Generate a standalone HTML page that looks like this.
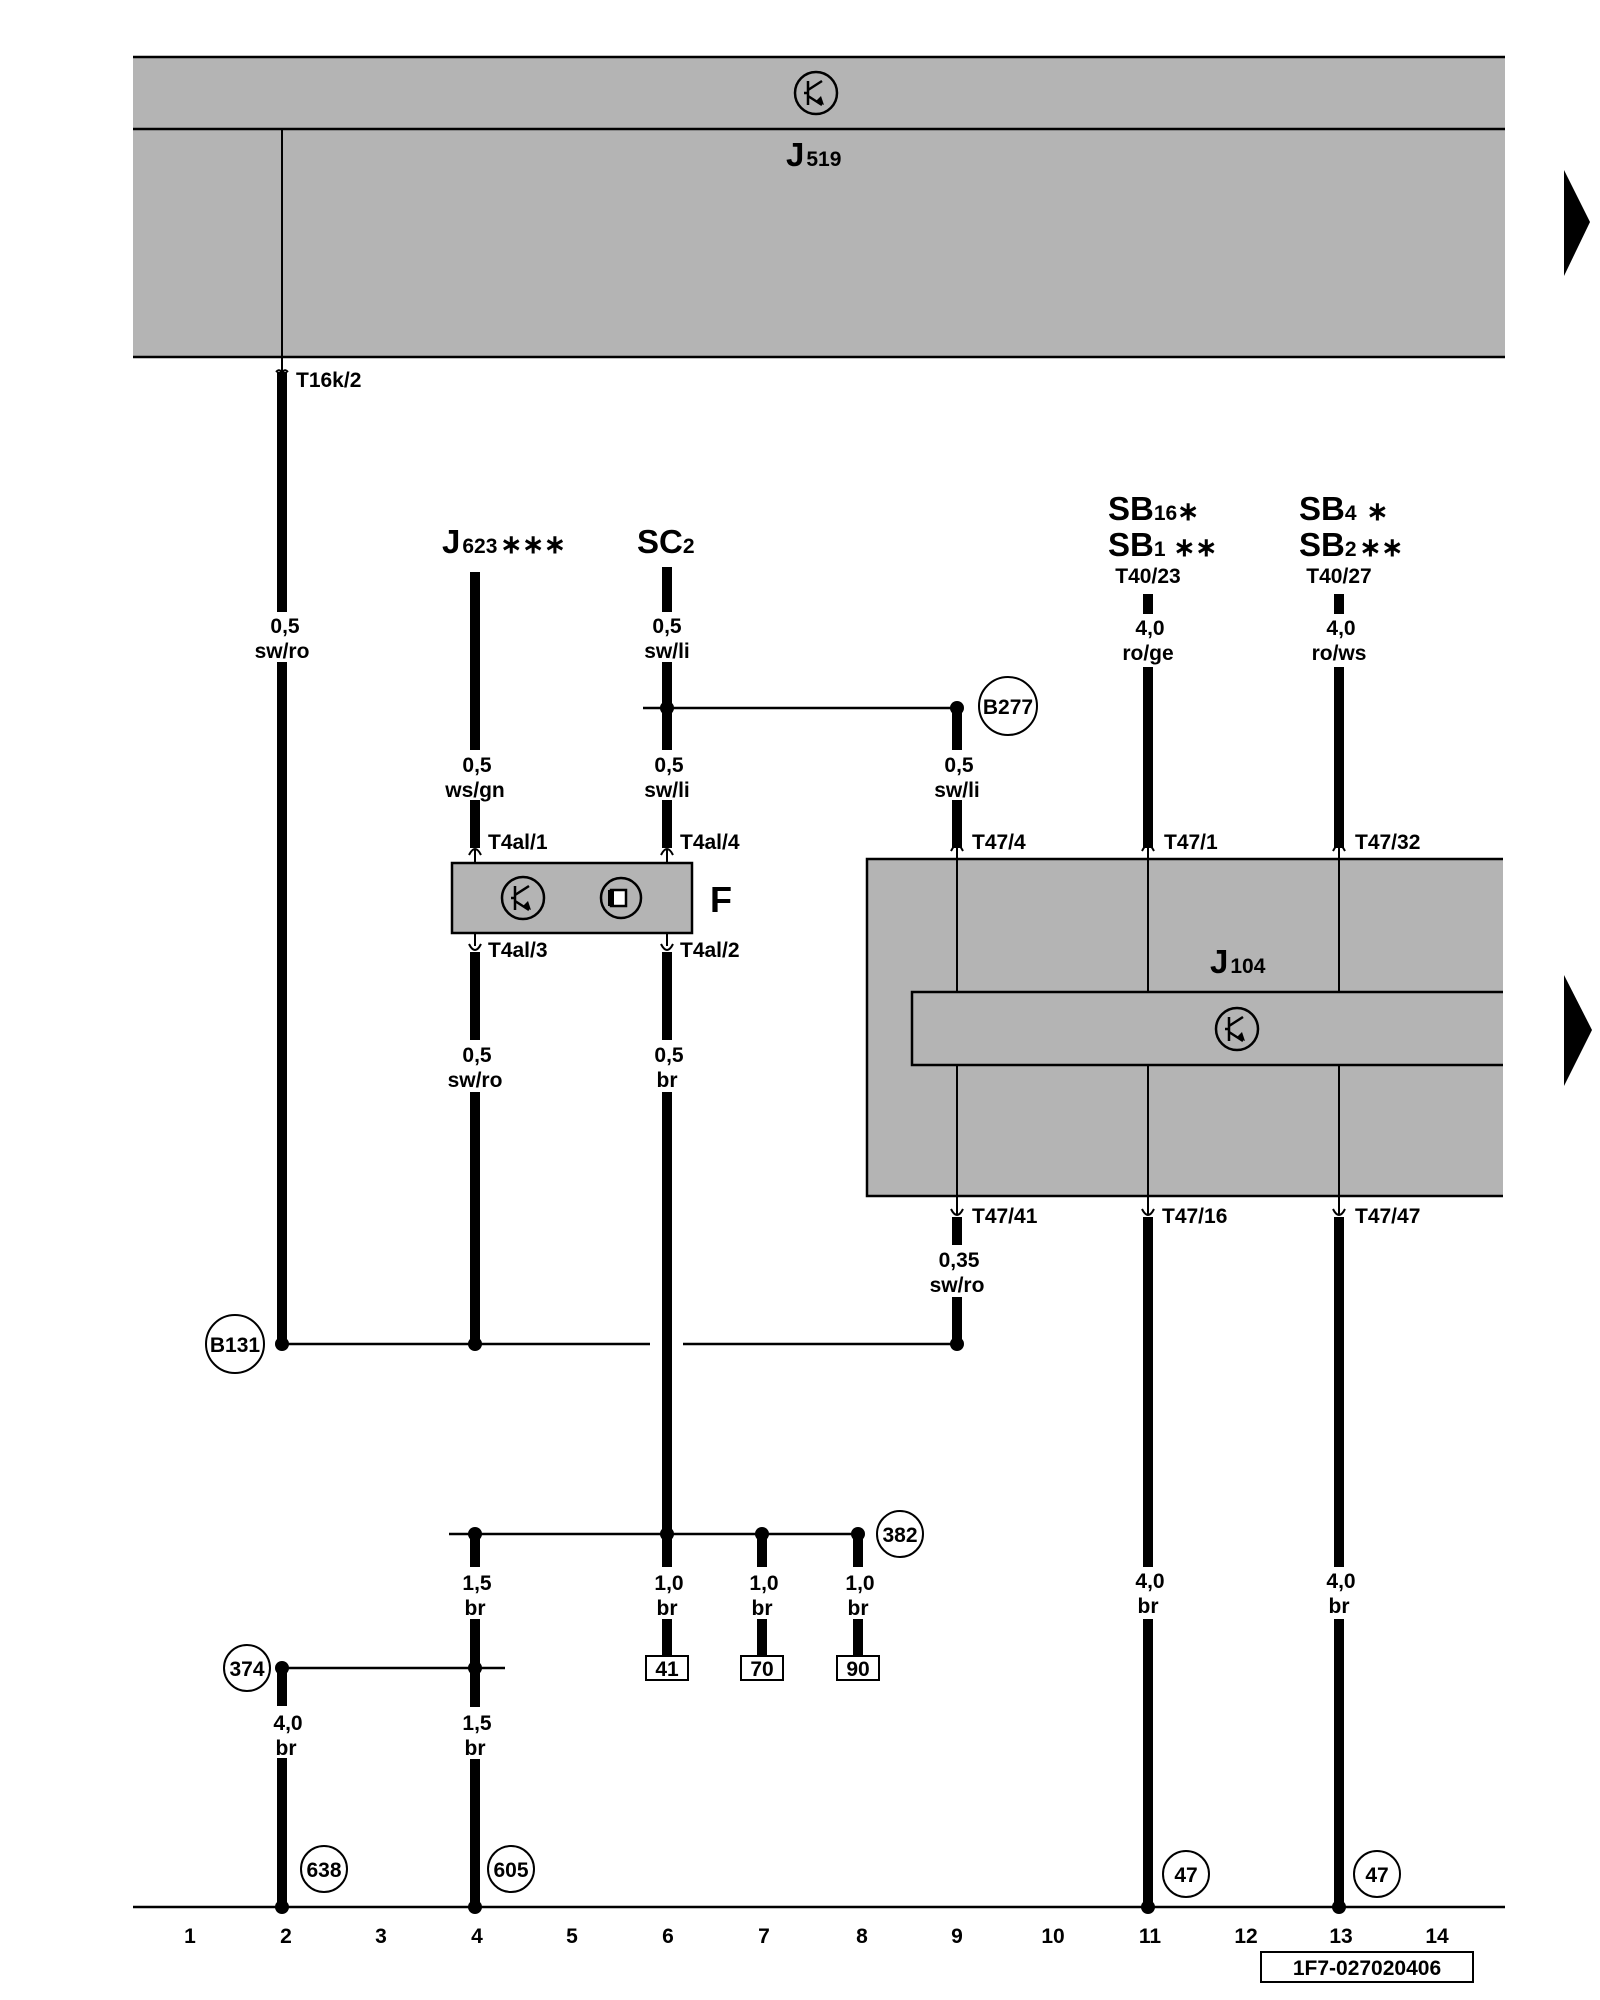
<!DOCTYPE html>
<html><head><meta charset="utf-8"><style>
html,body{margin:0;padding:0;background:#fff}
svg{display:block}
text{font-family:"Liberation Sans",Arial,sans-serif;fill:#000}
.l{font-size:21px;font-weight:bold;text-anchor:middle}
.t{font-size:21px;font-weight:bold}
.big{font-size:33px;font-weight:bold}
.sub{font-size:21px;font-weight:bold}
</style></head><body>
<svg width="1600" height="2000" viewBox="0 0 1600 2000" xmlns="http://www.w3.org/2000/svg">
<defs>
<g id="tr"><circle r="21" fill="none" stroke="#000" stroke-width="2.5"/><path d="M-8,-12 V12 M-12,0 H-8 M-8,-3 L6,-12 M-8,3 L6,12" stroke="#000" stroke-width="2.5" fill="none"/><path d="M8,12 L0,8 L5,3 Z" fill="#000"/></g>
</defs>
<rect x="133" y="57" width="1372" height="300" fill="#b4b4b4"/>
<path d="M133,57 H1505 M133,129 H1505 M133,357 H1505" stroke="#000" stroke-width="2.5"/>
<use href="#tr" x="816" y="93"/>
<text x="786" y="166" class="big">J<tspan class="sub" dx="2">519</tspan></text>
<line x1="282" y1="129" x2="282" y2="372" stroke="#000" stroke-width="2"/>
<path d="M1564,170 L1590,222 L1564,276 Z" fill="#000"/>
<path d="M1564,975 L1592,1030 L1564,1086 Z" fill="#000"/>

<rect x="867" y="859" width="640" height="337" fill="#b4b4b4" stroke="#000" stroke-width="2.5"/>
<rect x="912" y="992" width="595" height="73" fill="#b4b4b4" stroke="#000" stroke-width="2.5"/>
<rect x="1503" y="855" width="10" height="345" fill="#fff"/>
<use href="#tr" x="1237" y="1029"/>
<text x="1210" y="973" class="big">J<tspan class="sub" dx="2">104</tspan></text>
<g stroke="#000" stroke-width="2">
<line x1="957" y1="859" x2="957" y2="992"/><line x1="957" y1="1065" x2="957" y2="1196"/>
<line x1="1148" y1="859" x2="1148" y2="992"/><line x1="1148" y1="1065" x2="1148" y2="1196"/>
<line x1="1339" y1="859" x2="1339" y2="992"/><line x1="1339" y1="1065" x2="1339" y2="1196"/>
<line x1="475" y1="849" x2="475" y2="863"/><line x1="667" y1="849" x2="667" y2="863"/>
<line x1="475" y1="933" x2="475" y2="946"/><line x1="667" y1="933" x2="667" y2="946"/>
</g>
<rect x="452" y="863" width="240" height="70" fill="#b4b4b4" stroke="#000" stroke-width="2.5"/>
<use href="#tr" x="523" y="898"/>
<circle cx="621" cy="898" r="20" fill="none" stroke="#000" stroke-width="2.5"/>
<rect x="611" y="890" width="15" height="16" fill="#fff" stroke="#000" stroke-width="2.5"/>
<rect x="608" y="890" width="6" height="16" fill="#000"/>
<text x="710" y="912" style="font-size:36px;font-weight:bold">F</text>

<g stroke="#000" stroke-width="10" fill="none">
<path d="M282,372 V612 M282,662 V1344"/>
<path d="M282,1668 V1706 M282,1758 V1907"/>
<path d="M475,572 V750 M475,800 V848"/>
<path d="M475,952 V1040 M475,1092 V1344"/>
<path d="M475,1534 V1567 M475,1619 V1707 M475,1759 V1907"/>
<path d="M667,567 V612 M667,662 V750 M667,800 V848"/>
<path d="M667,952 V1040 M667,1092 V1567 M667,1619 V1656"/>
<path d="M762,1534 V1567 M762,1619 V1656"/>
<path d="M858,1534 V1567 M858,1619 V1656"/>
<path d="M957,708 V750 M957,800 V848"/>
<path d="M957,1217 V1245 M957,1297 V1344"/>
<path d="M1148,594 V614 M1148,667 V848"/>
<path d="M1148,1217 V1567 M1148,1619 V1907"/>
<path d="M1339,594 V614 M1339,667 V848"/>
<path d="M1339,1217 V1567 M1339,1619 V1907"/>
</g>
<g stroke="#000" stroke-width="2" fill="none">
<path d="M276,372 Q282,366 282,380 Q282,366 288,372"/>
<path d="M469,855 Q475,843 481,855 M475,849 V863"/>
<path d="M661,855 Q667,843 673,855 M667,849 V863"/>
<path d="M951,851 Q957,839 963,851 M957,845 V859"/>
<path d="M1142,851 Q1148,839 1154,851 M1148,845 V859"/>
<path d="M1333,851 Q1339,839 1345,851 M1339,845 V859"/>
<path d="M469,944 Q475,956 481,944"/>
<path d="M661,944 Q667,956 673,944"/>
<path d="M951,1209 Q957,1221 963,1209 M957,1196 V1214"/>
<path d="M1142,1209 Q1148,1221 1154,1209 M1148,1196 V1214"/>
<path d="M1333,1209 Q1339,1221 1345,1209 M1339,1196 V1214"/>
</g>
<g stroke="#000" stroke-width="2.5">
<line x1="643" y1="708" x2="957" y2="708"/>
<line x1="282" y1="1344" x2="650" y2="1344"/>
<line x1="683" y1="1344" x2="957" y2="1344"/>
<line x1="449" y1="1534" x2="858" y2="1534"/>
<line x1="282" y1="1668" x2="505" y2="1668"/>
<line x1="133" y1="1907" x2="1505" y2="1907"/>
</g>
<g fill="#000">
<circle cx="667" cy="708" r="7"/><circle cx="957" cy="708" r="7"/>
<circle cx="282" cy="1344" r="7"/><circle cx="475" cy="1344" r="7"/><circle cx="957" cy="1344" r="7"/>
<circle cx="475" cy="1534" r="7"/><circle cx="667" cy="1534" r="7"/><circle cx="762" cy="1534" r="7"/><circle cx="858" cy="1534" r="7"/>
<circle cx="282" cy="1668" r="7"/><circle cx="475" cy="1668" r="7"/>
<circle cx="282" cy="1907" r="7"/><circle cx="475" cy="1907" r="7"/><circle cx="1148" cy="1907" r="7"/><circle cx="1339" cy="1907" r="7"/>
</g>
<g fill="#fff" stroke="#000" stroke-width="2">
<circle cx="1008" cy="706" r="29"/><circle cx="235" cy="1344" r="29"/>
<circle cx="900" cy="1534" r="23"/><circle cx="247" cy="1668" r="23"/>
<circle cx="324" cy="1869" r="23"/><circle cx="511" cy="1869" r="23"/>
<circle cx="1186" cy="1874" r="23"/><circle cx="1377" cy="1874" r="23"/>
</g>
<g class="l">
<text x="1008" y="714" class="l">B277</text>
<text x="235" y="1352" class="l">B131</text>
<text x="900" y="1542" class="l">382</text>
<text x="247" y="1676" class="l">374</text>
<text x="324" y="1877" class="l">638</text>
<text x="511" y="1877" class="l">605</text>
<text x="1186" y="1882" class="l">47</text>
<text x="1377" y="1882" class="l">47</text>
</g>
<g fill="#fff" stroke="#000" stroke-width="2">
<rect x="646" y="1656" width="42" height="24"/><rect x="741" y="1656" width="42" height="24"/><rect x="837" y="1656" width="42" height="24"/>
</g>
<text x="667" y="1676" class="l">41</text><text x="762" y="1676" class="l">70</text><text x="858" y="1676" class="l">90</text>

<text x="296" y="387" class="t">T16k/2</text>
<text x="488" y="849" class="t">T4al/1</text>
<text x="680" y="849" class="t">T4al/4</text>
<text x="488" y="957" class="t">T4al/3</text>
<text x="680" y="957" class="t">T4al/2</text>
<text x="972" y="849" class="t">T47/4</text>
<text x="1164" y="849" class="t">T47/1</text>
<text x="1355" y="849" class="t">T47/32</text>
<text x="972" y="1223" class="t">T47/41</text>
<text x="1162" y="1223" class="t">T47/16</text>
<text x="1355" y="1223" class="t">T47/47</text>

<text x="442" y="553" class="big">J<tspan class="sub" dx="2">623</tspan><tspan style="font-size:26px" dx="3">∗∗∗</tspan></text>
<text x="637" y="553" class="big">SC<tspan class="sub">2</tspan></text>
<text x="1108" y="520" class="big">SB<tspan class="sub">16</tspan><tspan style="font-size:26px">∗</tspan></text>
<text x="1108" y="556" class="big">SB<tspan class="sub">1</tspan><tspan style="font-size:26px" dx="8">∗∗</tspan></text>
<text x="1148" y="583" class="l">T40/23</text>
<text x="1299" y="520" class="big">SB<tspan class="sub">4</tspan><tspan style="font-size:26px" dx="10">∗</tspan></text>
<text x="1299" y="556" class="big">SB<tspan class="sub">2</tspan><tspan style="font-size:26px" dx="3">∗∗</tspan></text>
<text x="1339" y="583" class="l">T40/27</text>

<g class="l">
<text x="285" y="633">0,5</text><text x="282" y="658">sw/ro</text>
<text x="667" y="633">0,5</text><text x="667" y="658">sw/li</text>
<text x="1150" y="635">4,0</text><text x="1148" y="660">ro/ge</text>
<text x="1341" y="635">4,0</text><text x="1339" y="660">ro/ws</text>
<text x="477" y="772">0,5</text><text x="475" y="797">ws/gn</text>
<text x="669" y="772">0,5</text><text x="667" y="797">sw/li</text>
<text x="959" y="772">0,5</text><text x="957" y="797">sw/li</text>
<text x="477" y="1062">0,5</text><text x="475" y="1087">sw/ro</text>
<text x="669" y="1062">0,5</text><text x="667" y="1087">br</text>
<text x="959" y="1267">0,35</text><text x="957" y="1292">sw/ro</text>
<text x="477" y="1590">1,5</text><text x="475" y="1615">br</text>
<text x="669" y="1590">1,0</text><text x="667" y="1615">br</text>
<text x="764" y="1590">1,0</text><text x="762" y="1615">br</text>
<text x="860" y="1590">1,0</text><text x="858" y="1615">br</text>
<text x="1150" y="1588">4,0</text><text x="1148" y="1613">br</text>
<text x="1341" y="1588">4,0</text><text x="1339" y="1613">br</text>
<text x="288" y="1730">4,0</text><text x="286" y="1755">br</text>
<text x="477" y="1730">1,5</text><text x="475" y="1755">br</text>
</g>
<g class="l">
<text x="190" y="1943">1</text><text x="286" y="1943">2</text><text x="381" y="1943">3</text><text x="477" y="1943">4</text>
<text x="572" y="1943">5</text><text x="668" y="1943">6</text><text x="764" y="1943">7</text><text x="862" y="1943">8</text>
<text x="957" y="1943">9</text><text x="1053" y="1943">10</text><text x="1150" y="1943">11</text><text x="1246" y="1943">12</text>
<text x="1341" y="1943">13</text><text x="1437" y="1943">14</text>
</g>
<rect x="1261" y="1952" width="212" height="30" fill="#fff" stroke="#000" stroke-width="2"/>
<text x="1367" y="1975" class="l">1F7-027020406</text>
</svg>
</body></html>
